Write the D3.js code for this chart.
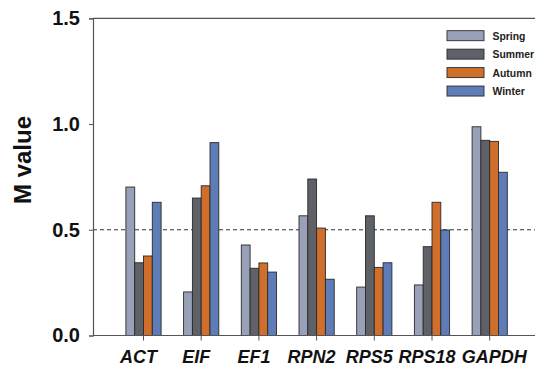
<!DOCTYPE html>
<html><head><meta charset="utf-8">
<script src="https://cdn.jsdelivr.net/npm/d3@7"></script>
<style>body{margin:0;background:#fff}svg{display:block}</style>
</head><body><svg id="c" width="535" height="369"></svg>
<script>
const categories = ["ACT","EIF","EF1","RPN2","RPS5","RPS18","GAPDH"];
const seriesNames = ["Spring","Summer","Autumn","Winter"];
const spring = [0.702,0.206,0.428,0.566,0.229,0.239,0.987];
const summer = [0.344,0.650,0.318,0.740,0.566,0.420,0.923];
const autumn = [0.376,0.708,0.343,0.508,0.322,0.630,0.918];
const winter = [0.630,0.912,0.300,0.266,0.344,0.499,0.772];
const yTicks = [0,0.5,1.0,1.5];
const refLine = 0.5;
const colors = ["#99a1b8","#5e6168","#d06e2b","#5d7cb8"];
const series = [spring,summer,autumn,winter];

(function(){
const svg = d3.select("#c");
const mLeft = 93, mRight = 540, mTop = 18.3, mBottom = 335.5;
const step = 57.7, firstCenter = 143.5;
const y = d3.scaleLinear().domain([0,1.5]).range([mBottom, mTop]);
const x = d3.scaleBand().domain(categories)
  .range([firstCenter - step/2, firstCenter - step/2 + step*categories.length]).padding(0);
const groupW = 35.2;
const xs = d3.scaleBand().domain(seriesNames).range([-groupW/2, groupW/2]).padding(0);

svg.append("line").attr("x1",mLeft).attr("x2",mRight).attr("y1",mTop).attr("y2",mTop)
  .attr("stroke","#555").attr("stroke-width",1.2);

svg.append("line").attr("x1",mLeft).attr("x2",mRight).attr("y1",y(refLine)).attr("y2",y(refLine))
  .attr("stroke","#333").attr("stroke-width",1).attr("stroke-dasharray","4,3");

seriesNames.forEach((s,si)=>{
  svg.append("g").selectAll("rect").data(series[si]).join("rect")
    .attr("x",(d,i)=>x(categories[i]) + x.bandwidth()/2 + xs(s))
    .attr("width",xs.bandwidth())
    .attr("y",d=>y(d))
    .attr("height",d=>y(0)-y(d))
    .attr("fill",colors[si]).attr("stroke","#2a2a2a").attr("stroke-width",0.9);
});

const ya = svg.append("g").attr("transform",`translate(${mLeft},0)`)
  .call(d3.axisLeft(y).tickValues(yTicks).tickFormat(d3.format(".1f")).tickSize(4).tickPadding(9));
ya.select(".domain").attr("stroke","#555").attr("stroke-width",1.2);
ya.selectAll(".tick line").attr("stroke","#555");
ya.selectAll("text").attr("font-family","Liberation Sans, Arial, sans-serif")
  .attr("font-size",20).attr("font-weight","bold").attr("fill","#111");

const xa = svg.append("g").attr("transform",`translate(0,${mBottom})`)
  .call(d3.axisBottom(x).tickSize(5).tickPadding(10).tickSizeOuter(0));
xa.select(".domain").attr("d",`M${mLeft},0H${mRight}`).attr("stroke","#555").attr("stroke-width",1.2);
xa.selectAll(".tick line").attr("stroke","#555");
xa.selectAll("text").attr("font-family","Liberation Sans, Arial, sans-serif")
  .attr("font-size",18).attr("font-weight","bold").attr("font-style","italic").attr("fill","#111")
  .attr("dx",(d,i)=> i === categories.length-1 ? 4.5 : -5);

svg.append("text").attr("transform","translate(31,160) rotate(-90)")
  .attr("text-anchor","middle").attr("font-family","Liberation Sans, Arial, sans-serif")
  .attr("font-size",24).attr("font-weight","bold").attr("fill","#111").text("M value");

const lg = svg.append("g").attr("transform","translate(447,30.7)");
seriesNames.forEach((s,i)=>{
  const g = lg.append("g").attr("transform",`translate(0,${i*18.45})`);
  g.append("rect").attr("width",37).attr("height",10).attr("fill",colors[i])
    .attr("stroke","#2a2a2a").attr("stroke-width",0.9);
  g.append("text").attr("x",45.5).attr("y",9).attr("font-family","Liberation Sans, Arial, sans-serif")
    .attr("font-size",10.4).attr("font-weight","bold").attr("fill","#222").text(s);
});
})();
</script></body></html>
